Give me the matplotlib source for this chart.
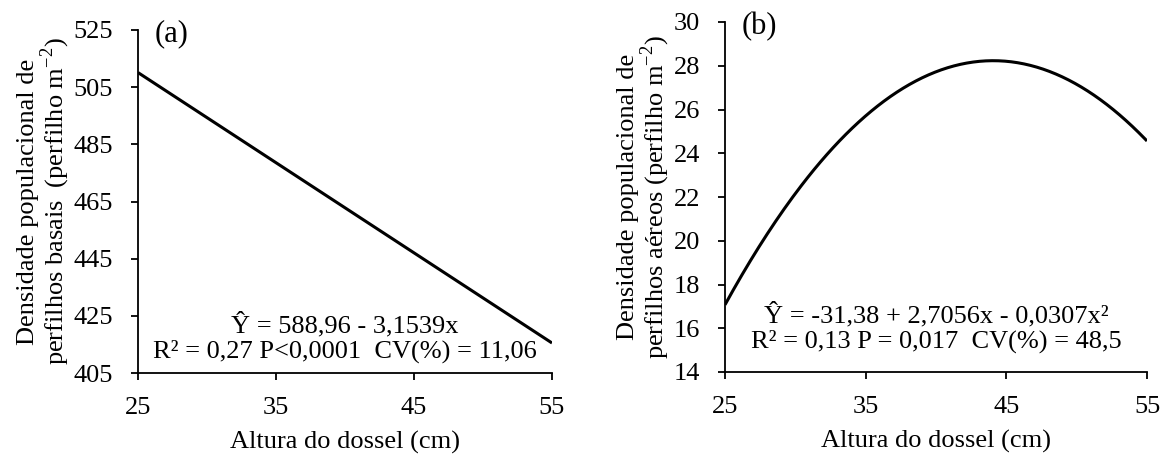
import numpy as np
import matplotlib
matplotlib.use("Agg")
import matplotlib.pyplot as plt

plt.rcParams['font.family'] = ['Liberation Serif', 'DejaVu Serif']
plt.rcParams['mathtext.fontset'] = 'custom'
plt.rcParams['mathtext.rm'] = 'Liberation Serif'

# faixa de altura do dossel avaliada (cm)
altura_min, altura_max = 25, 55
x_ticks = [25, 35, 45, 55]

# coeficientes das regressoes (b0, b1, b2)
coef_basais = [588.96, -3.1539]
coef_aereos = [-31.38, 2.7056, -0.0307]

y_ticks_a = [405, 425, 445, 465, 485, 505, 525]
y_ticks_b = [14, 16, 18, 20, 22, 24, 26, 28, 30]

eq_a = "Ŷ = 588,96 - 3,1539x\nR² = 0,27 P<0,0001  CV(%) = 11,06"
eq_b = "Ŷ = -31,38 + 2,7056x - 0,0307x²\nR² = 0,13 P = 0,017  CV(%) = 48,5"

ylab_a = "Densidade populacional de\nperfilhos basais  (perfilho m$^{-2}$)"
ylab_b = "Densidade populacional de\nperfilhos aéreos (perfilho m$^{-2}$)"


def poli(coefs, x):
    return sum(c * x**i for i, c in enumerate(coefs))


x = np.linspace(altura_min, altura_max, 200)

fig = plt.figure(figsize=(11.62, 4.55), dpi=100)
ax1 = fig.add_axes([138/1162, 1 - 373/455, 414/1162, 343/455])
ax2 = fig.add_axes([725/1162, 1 - 372/455, 422/1162, 350/455])

paineis = [
    (ax1, coef_basais, y_ticks_a, ylab_a, eq_a, "(a)", 0.03),
    (ax2, coef_aereos, y_ticks_b, ylab_b, eq_b, "(b)", 0.055),
]

for ax, coefs, yt, ylab, eq, letra, ypos in paineis:
    ax.plot(x, poli(coefs, x), color='black', lw=2.2, solid_capstyle='butt')
    ax.set_xlim(altura_min, altura_max)
    ax.set_ylim(yt[0], yt[-1])
    ax.set_xticks(x_ticks)
    ax.set_yticks(yt)
    ax.tick_params(direction='out', length=5, width=1.3, labelsize=19, colors='black')
    ax.tick_params(axis='x', pad=12)
    ax.tick_params(axis='y', pad=13)
    ax.spines['top'].set_visible(False)
    ax.spines['right'].set_visible(False)
    for s in ('left', 'bottom'):
        ax.spines[s].set_linewidth(1.3)
    ax.set_xlabel("Altura do dossel (cm)", fontsize=19, labelpad=9)
    ax.set_ylabel(ylab, fontsize=19, linespacing=1.0, labelpad=1)
    ax.text(0.04, 1.03, letra, transform=ax.transAxes, fontsize=22, va='top', ha='left')
    ax.text(0.5, ypos, eq, transform=ax.transAxes, fontsize=19,
            ha='center', va='bottom', linespacing=1.1)

fig.savefig("out.png", dpi=100)
